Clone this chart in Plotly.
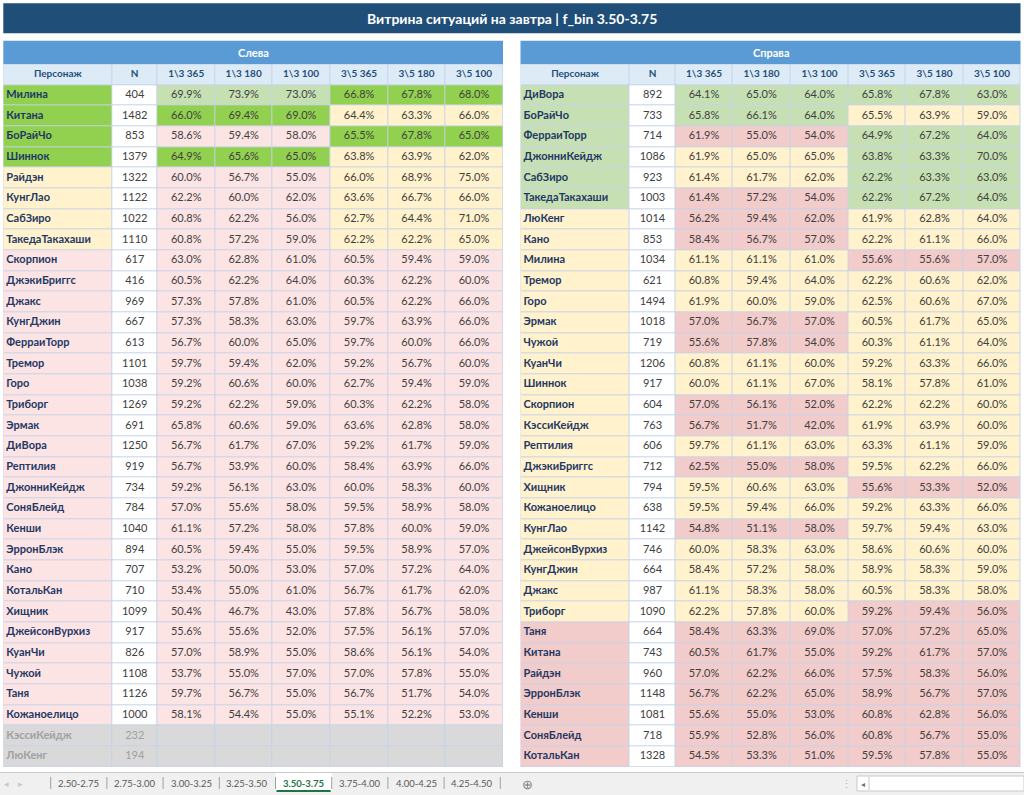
import plotly.graph_objects as go

# ---------------- DATA ----------------
title_text = "Витрина ситуаций на завтра | f_bin 3.50-3.75"
side_titles = ["Слева", "Справа"]
col_headers = ["Персонаж", "N", "1\\3 365", "1\\3 180", "1\\3 100", "3\\5 365", "3\\5 180", "3\\5 100"]
sheet_tabs = ["2.50-2.75", "2.75-3.00", "3.00-3.25", "3.25-3.50", "3.50-3.75", "3.75-4.00", "4.00-4.25", "4.25-4.50"]
active_tab = "3.50-3.75"

left_names = ["Милина", "Китана", "БоРайЧо", "Шиннок", "Райдэн", "КунгЛао", "СабЗиро", "ТакедаТакахаши",
              "Скорпион", "ДжэкиБриггс", "Джакс", "КунгДжин", "ФерраиТорр", "Тремор", "Горо", "Триборг",
              "Эрмак", "ДиВора", "Рептилия", "ДжонниКейдж", "СоняБлейд", "Кенши", "ЭрронБлэк", "Кано",
              "КотальКан", "Хищник", "ДжейсонВурхиз", "КуанЧи", "Чужой", "Таня", "Кожаноелицо",
              "КэссиКейдж", "ЛюКенг"]
left_n = [404, 1482, 853, 1379, 1322, 1122, 1022, 1110, 617, 416, 969, 667, 613, 1101, 1038, 1269,
          691, 1250, 919, 734, 784, 1040, 894, 707, 710, 1099, 917, 826, 1108, 1126, 1000, 232, 194]
left_13_365 = [69.9, 66.0, 58.6, 64.9, 60.0, 62.2, 60.8, 60.8, 63.0, 60.5, 57.3, 57.3, 56.7, 59.7, 59.2, 59.2,
               65.8, 56.7, 56.7, 59.2, 57.0, 61.1, 60.5, 53.2, 53.4, 50.4, 55.6, 57.0, 53.7, 59.7, 58.1, None, None]
left_13_180 = [73.9, 69.4, 59.4, 65.6, 56.7, 60.0, 62.2, 57.2, 62.8, 62.2, 57.8, 58.3, 60.0, 59.4, 60.6, 62.2,
               60.6, 61.7, 53.9, 56.1, 55.6, 57.2, 59.4, 50.0, 55.0, 46.7, 55.6, 58.9, 55.0, 56.7, 54.4, None, None]
left_13_100 = [73.0, 69.0, 58.0, 65.0, 55.0, 62.0, 56.0, 59.0, 61.0, 64.0, 61.0, 63.0, 65.0, 62.0, 60.0, 59.0,
               59.0, 67.0, 60.0, 63.0, 58.0, 58.0, 55.0, 53.0, 61.0, 43.0, 52.0, 55.0, 57.0, 55.0, 55.0, None, None]
left_35_365 = [66.8, 64.4, 65.5, 63.8, 66.0, 63.6, 62.7, 62.2, 60.5, 60.3, 60.5, 59.7, 59.7, 59.2, 62.7, 60.3,
               63.6, 59.2, 58.4, 60.0, 59.5, 57.8, 59.5, 57.0, 56.7, 57.8, 57.5, 58.6, 57.0, 56.7, 55.1, None, None]
left_35_180 = [67.8, 63.3, 67.8, 63.9, 68.9, 66.7, 64.4, 62.2, 59.4, 62.2, 62.2, 63.9, 60.0, 56.7, 59.4, 62.2,
               62.8, 61.7, 63.9, 58.3, 58.9, 60.0, 58.9, 57.2, 61.7, 56.7, 56.1, 56.1, 57.8, 51.7, 52.2, None, None]
left_35_100 = [68.0, 66.0, 65.0, 62.0, 75.0, 66.0, 71.0, 65.0, 59.0, 60.0, 66.0, 66.0, 66.0, 60.0, 59.0, 58.0,
               58.0, 59.0, 66.0, 60.0, 58.0, 59.0, 57.0, 64.0, 62.0, 58.0, 57.0, 54.0, 55.0, 54.0, 53.0, None, None]
# tiers: G = top, g = good, y = middle, p = weak (left), r = weak (right), x = not enough data
left_tier_name = ["G"] * 4 + ["y"] * 4 + ["p"] * 23 + ["x"] * 2
left_tier_13 = ["g", "G", "p", "G"] + ["p"] * 27 + ["x"] * 2
left_tier_35 = ["G", "y", "G", "y"] + ["y"] * 4 + ["p"] * 23 + ["x"] * 2

right_names = ["ДиВора", "БоРайЧо", "ФерраиТорр", "ДжонниКейдж", "СабЗиро", "ТакедаТакахаши", "ЛюКенг", "Кано",
               "Милина", "Тремор", "Горо", "Эрмак", "Чужой", "КуанЧи", "Шиннок", "Скорпион", "КэссиКейдж",
               "Рептилия", "ДжэкиБриггс", "Хищник", "Кожаноелицо", "КунгЛао", "ДжейсонВурхиз", "КунгДжин",
               "Джакс", "Триборг", "Таня", "Китана", "Райдэн", "ЭрронБлэк", "Кенши", "СоняБлейд", "КотальКан"]
right_n = [892, 733, 714, 1086, 923, 1003, 1014, 853, 1034, 621, 1494, 1018, 719, 1206, 917, 604, 763,
           606, 712, 794, 638, 1142, 746, 664, 987, 1090, 664, 743, 960, 1148, 1081, 718, 1328]
right_13_365 = [64.1, 65.8, 61.9, 61.9, 61.4, 61.4, 56.2, 58.4, 61.1, 60.8, 61.9, 57.0, 55.6, 60.8, 60.0, 57.0, 56.7,
                59.7, 62.5, 59.5, 59.5, 54.8, 60.0, 58.4, 61.1, 62.2, 58.4, 60.5, 57.0, 56.7, 55.6, 55.9, 54.5]
right_13_180 = [65.0, 66.1, 55.0, 65.0, 61.7, 57.2, 59.4, 56.7, 61.1, 59.4, 60.0, 56.7, 57.8, 61.1, 61.1, 56.1, 51.7,
                61.1, 55.0, 60.6, 59.4, 51.1, 58.3, 57.2, 58.3, 57.8, 63.3, 61.7, 62.2, 62.2, 55.0, 52.8, 53.3]
right_13_100 = [64.0, 64.0, 54.0, 65.0, 62.0, 54.0, 62.0, 57.0, 61.0, 64.0, 59.0, 57.0, 54.0, 60.0, 67.0, 52.0, 42.0,
                63.0, 58.0, 63.0, 66.0, 58.0, 63.0, 58.0, 58.0, 60.0, 69.0, 55.0, 66.0, 65.0, 53.0, 56.0, 51.0]
right_35_365 = [65.8, 65.5, 64.9, 63.8, 62.2, 62.2, 61.9, 62.2, 55.6, 62.2, 62.5, 60.5, 60.3, 59.2, 58.1, 62.2, 61.9,
                63.3, 59.5, 55.6, 59.2, 59.7, 58.6, 58.9, 60.5, 59.2, 57.0, 59.2, 57.5, 58.9, 60.8, 60.8, 59.5]
right_35_180 = [67.8, 63.9, 67.2, 63.3, 63.3, 67.2, 62.8, 61.1, 55.6, 60.6, 60.6, 61.7, 61.1, 63.3, 57.8, 62.2, 63.9,
                61.1, 62.2, 53.3, 63.3, 59.4, 60.6, 58.3, 58.3, 59.4, 57.2, 61.7, 58.3, 56.7, 62.8, 56.7, 57.8]
right_35_100 = [63.0, 59.0, 64.0, 70.0, 63.0, 64.0, 64.0, 66.0, 57.0, 62.0, 67.0, 65.0, 64.0, 66.0, 61.0, 60.0, 60.0,
                59.0, 66.0, 52.0, 66.0, 63.0, 60.0, 59.0, 58.0, 56.0, 65.0, 57.0, 56.0, 57.0, 56.0, 55.0, 55.0]
right_tier_name = ["g"] * 6 + ["y"] * 20 + ["r"] * 7
right_tier_13 = ["g", "g", "r", "y", "y", "r", "r", "r", "y", "y", "y", "r", "r", "y", "y", "r", "r",
                 "y", "r", "y", "y", "r", "y", "y", "y", "y", "r", "r", "r", "r", "r", "r", "r"]
right_tier_35 = ["g", "y", "g", "g", "g", "g", "y", "y", "r", "y", "y", "y", "y", "y", "y", "y", "y",
                 "y", "y", "r", "y", "y", "y", "y", "y", "r", "r", "r", "r", "r", "r", "r", "r"]

# ---------------- STYLE ----------------
W, H = 1024, 795
FONT = "Lato, Roboto, sans-serif"
TIERS = ["G", "g", "y", "p", "r", "x", "w", "h"]
TIER_COLORS = ["#92D050", "#C6E0B4", "#FFF2CC", "#FCE4E4", "#F2CBCB", "#D9D9D9", "#FFFFFF", "#DDEBF7"]
NAVY = "#1F3864"
NUM = "#404040"
GRAY_TXT = "#A0A0A0"
GRID = "#C5D3E8"
TABLE_TOP, TABLE_BOTTOM = 64.3, 767.0
CELL_FONT = 11

colorscale = []
for i, c in enumerate(TIER_COLORS):
    colorscale += [[i / len(TIERS), c], [(i + 1) / len(TIERS), c]]


def fy(px):
    return 1 - px / H


def fx(px):
    return px / W


def pct(v):
    return "" if v is None else f"{v:.1f}%"


def add_side(names, ns, vals, tier_name, tier_13, tier_35, widths, xa, ya):
    nrows = len(names)
    edges = [0]
    for w in widths:
        edges.append(edges[-1] + w)
    centers = [(edges[i] + edges[i + 1]) / 2 for i in range(len(widths))]
    # fills: row 0 = column headers
    z = [[TIERS.index("h")] * len(widths)]
    for r in range(nrows):
        row = [TIERS.index(tier_name[r]), TIERS.index("x" if tier_name[r] == "x" else "w")]
        row += [TIERS.index(tier_13[r])] * 3 + [TIERS.index(tier_35[r])] * 3
        z.append(row)
    fig.add_trace(go.Heatmap(z=z, x=edges, y=list(range(nrows + 1)), colorscale=colorscale,
                             zmin=-0.5, zmax=len(TIERS) - 0.5, showscale=False, xgap=1, ygap=1,
                             hoverinfo="skip", xaxis=xa, yaxis=ya))
    # column headers
    fig.add_trace(go.Scatter(x=centers, y=[0] * len(widths), mode="text",
                             text=["<b>" + h + "</b>" for h in col_headers], textposition="middle center",
                             textfont=dict(family=FONT, size=10, color="#1F4E79"),
                             hoverinfo="skip", cliponaxis=False, xaxis=xa, yaxis=ya))
    rows = list(range(1, nrows + 1))
    # names (left aligned)
    fig.add_trace(go.Scatter(x=[edges[0] + 3] * nrows, y=rows, mode="text",
                             text=["<b>" + n + "</b>" for n in names], textposition="middle right",
                             textfont=dict(family=FONT, size=CELL_FONT,
                                           color=[GRAY_TXT if t == "x" else NAVY for t in tier_name]),
                             hoverinfo="skip", cliponaxis=False, xaxis=xa, yaxis=ya))
    # N
    fig.add_trace(go.Scatter(x=[centers[1]] * nrows, y=rows, mode="text", text=[str(v) for v in ns],
                             textposition="middle center",
                             textfont=dict(family=FONT, size=CELL_FONT,
                                           color=[GRAY_TXT if t == "x" else NUM for t in tier_name]),
                             hoverinfo="skip", cliponaxis=False, xaxis=xa, yaxis=ya))
    # percentage columns
    xs, ys, ts = [], [], []
    for k, col in enumerate(vals):
        for r, v in enumerate(col):
            if v is not None:
                xs.append(centers[2 + k])
                ys.append(r + 1)
                ts.append(pct(v))
    fig.add_trace(go.Scatter(x=xs, y=ys, mode="text", text=ts, textposition="middle center",
                             textfont=dict(family=FONT, size=CELL_FONT, color=NUM),
                             hoverinfo="skip", cliponaxis=False, xaxis=xa, yaxis=ya))
    return edges[-1], nrows


fig = go.Figure()
wl, nl = add_side(left_names, left_n,
                  [left_13_365, left_13_180, left_13_100, left_35_365, left_35_180, left_35_100],
                  left_tier_name, left_tier_13, left_tier_35, [109, 45, 58, 57, 58, 58, 57, 58], "x", "y")
wr, nr = add_side(right_names, right_n,
                  [right_13_365, right_13_180, right_13_100, right_35_365, right_35_180, right_35_100],
                  right_tier_name, right_tier_13, right_tier_35, [109, 46, 57, 58, 58, 57, 58, 57], "x2", "y2")

ax = dict(showgrid=False, zeroline=False, showticklabels=False, ticks="", fixedrange=True, showline=False)
LEFT_X = (3.3, 503.0)
RIGHT_X = (520.5, 1020.5)

shapes = []
annotations = []


def rect(x0, y0, x1, y1, fill, line_color=None, lw=0):
    shapes.append(dict(type="rect", xref="paper", yref="paper", x0=fx(x0), x1=fx(x1), y0=fy(y1), y1=fy(y0),
                       fillcolor=fill, line=dict(color=line_color or fill, width=lw), layer="below"))


def label(text, x, y, size, color, xanchor="center"):
    annotations.append(dict(text=text, xref="paper", yref="paper", x=fx(x), y=fy(y), showarrow=False,
                            xanchor=xanchor, yanchor="middle", font=dict(family=FONT, size=size, color=color)))


# title bar and side headers
rect(3.3, 3.3, 1020.5, 33.3, "#1F4E79")
label("<b>" + title_text + "</b>", 512, 18.8, 14, "white")
for (x0, x1), t in zip([LEFT_X, RIGHT_X], side_titles):
    rect(x0, 40.7, x1, 64.3, "#5B9BD5")
    label("<b>" + t + "</b>", (x0 + x1) / 2, 52.5, 11, "white")

# sheet tab bar
rect(0, 772, 1024, 795, "#F0F0F0")
shapes.append(dict(type="line", xref="paper", yref="paper", x0=0, x1=1, y0=fy(772.5), y1=fy(772.5),
                   line=dict(color="#C8C8C8", width=1)))
label("◂", 6, 783.5, 9, "#C8C8C8")
label("▸", 20, 783.5, 9, "#C8C8C8")
TAB0, TABW = 50.7, 56.2
for i, t in enumerate(sheet_tabs):
    xa0 = TAB0 + i * TABW
    if t == active_tab:
        rect(xa0, 772, xa0 + TABW, 792, "#FFFFFF")
        shapes.append(dict(type="line", xref="paper", yref="paper", x0=fx(xa0 + 1), x1=fx(xa0 + TABW - 1),
                           y0=fy(791), y1=fy(791), line=dict(color="#217346", width=2)))
        label("<b>" + t + "</b>", xa0 + TABW / 2, 783, 9.5, "#217346")
    else:
        label(t, xa0 + TABW / 2, 783, 9.5, "#595959")
    shapes.append(dict(type="line", xref="paper", yref="paper", x0=fx(xa0), x1=fx(xa0), y0=fy(777), y1=fy(789),
                       line=dict(color="#A0A0A0", width=1)))
xe = TAB0 + len(sheet_tabs) * TABW
shapes.append(dict(type="line", xref="paper", yref="paper", x0=fx(xe), x1=fx(xe), y0=fy(777), y1=fy(789),
                   line=dict(color="#A0A0A0", width=1)))
label("⊕", 527.5, 783.5, 13, "#7F7F7F")
label("⋮", 846, 783.5, 11, "#B0B0B0")
rect(857, 776, 1024, 791, "#FFFFFF", "#C8C8C8", 1)
label("◂", 863, 783.5, 8, "#707070")
shapes.append(dict(type="line", xref="paper", yref="paper", x0=fx(869), x1=fx(869), y0=fy(777), y1=fy(790),
                   line=dict(color="#C8C8C8", width=1)))

fig.update_layout(
    width=W, height=H, margin=dict(l=0, r=0, t=0, b=0),
    paper_bgcolor="white", plot_bgcolor=GRID, showlegend=False,
    xaxis=dict(ax, domain=[fx(LEFT_X[0]), fx(LEFT_X[1])], range=[0, wl]),
    yaxis=dict(ax, domain=[fy(TABLE_BOTTOM), fy(TABLE_TOP)], range=[nl + 0.5, -0.5]),
    xaxis2=dict(ax, domain=[fx(RIGHT_X[0]), fx(RIGHT_X[1])], range=[0, wr], anchor="y2"),
    yaxis2=dict(ax, domain=[fy(TABLE_BOTTOM), fy(TABLE_TOP)], range=[nr + 0.5, -0.5], anchor="x2"),
    shapes=shapes, annotations=annotations,
)
fig.write_html("out.html", post_script="document.body.style.margin='0px';",
               config={"displayModeBar": False})
